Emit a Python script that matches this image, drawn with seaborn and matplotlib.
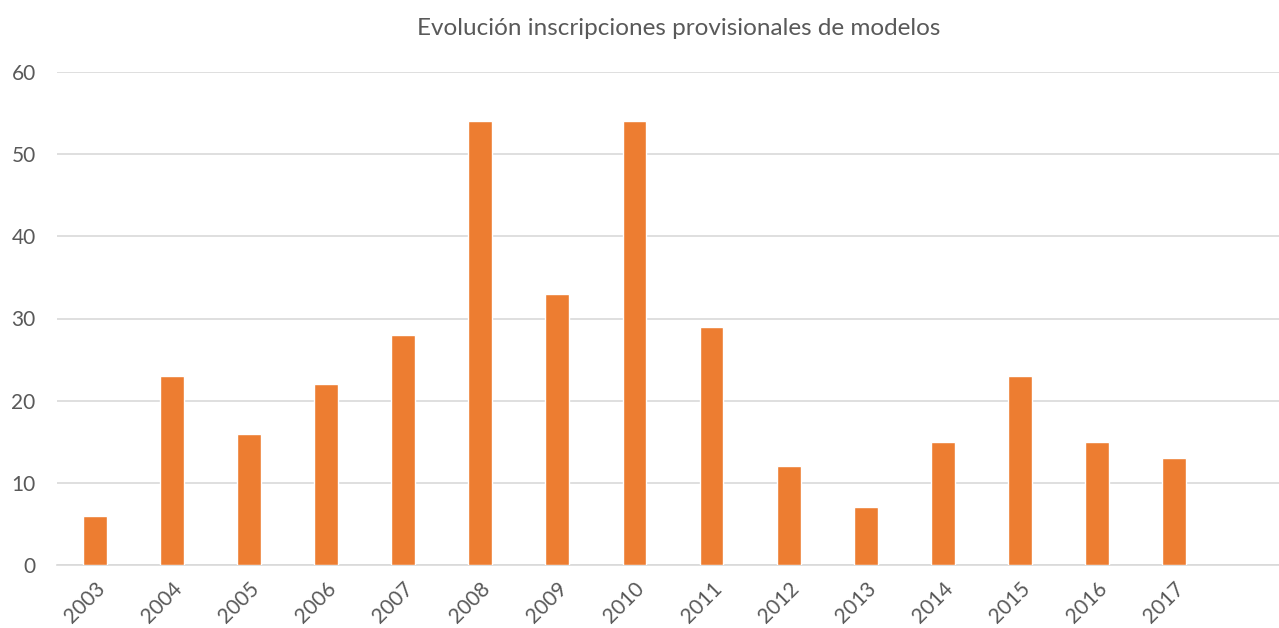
import pandas as pd
import matplotlib.pyplot as plt
import seaborn as sns

# Data
years = ['2003', '2004', '2005', '2006', '2007', '2008', '2009', '2010',
         '2011', '2012', '2013', '2014', '2015', '2016', '2017']
inscripciones = [6, 23, 16, 22, 28, 54, 33, 54, 29, 12, 7, 15, 23, 15, 13]

df = pd.DataFrame({'year': years, 'count': inscripciones})

sns.set_style('white')
plt.rcParams['font.family'] = ['Lato', 'DejaVu Sans']

grey = '#595959'
fig = plt.figure(figsize=(12.79, 6.28), dpi=100)
ax = fig.add_axes([56.5 / 1279, 63 / 628, 1233 / 1279, 493 / 628])

sns.barplot(data=df, x='year', y='count', color='#ED7D31', width=0.31,
            saturation=1, ax=ax, zorder=3)

# the original axis leaves room for one more (empty) category
ax.set_xlim(-0.5, 15.5)
ax.set_ylim(0, 60)
ax.set_yticks(range(0, 61, 10))
ax.yaxis.grid(True, color='#d9d9d9', linewidth=1.2, zorder=0)
ax.set_axisbelow(True)

for s in ['top', 'right', 'left']:
    ax.spines[s].set_visible(False)
ax.spines['bottom'].set_color('#d9d9d9')
ax.spines['bottom'].set_linewidth(1.2)

ax.tick_params(axis='both', length=0, colors=grey)
ax.tick_params(axis='y', pad=15, labelsize=15)
ax.tick_params(axis='x', pad=10, labelsize=15)
plt.setp(ax.get_xticklabels(), rotation=45, ha='right', rotation_mode='anchor')

ax.set_xlabel('')
ax.set_ylabel('')
fig.text(0.531, 0.955, 'Evolución inscripciones provisionales de modelos',
         ha='center', va='center', fontsize=17.5, color=grey)

fig.savefig('out.png', dpi=100)
